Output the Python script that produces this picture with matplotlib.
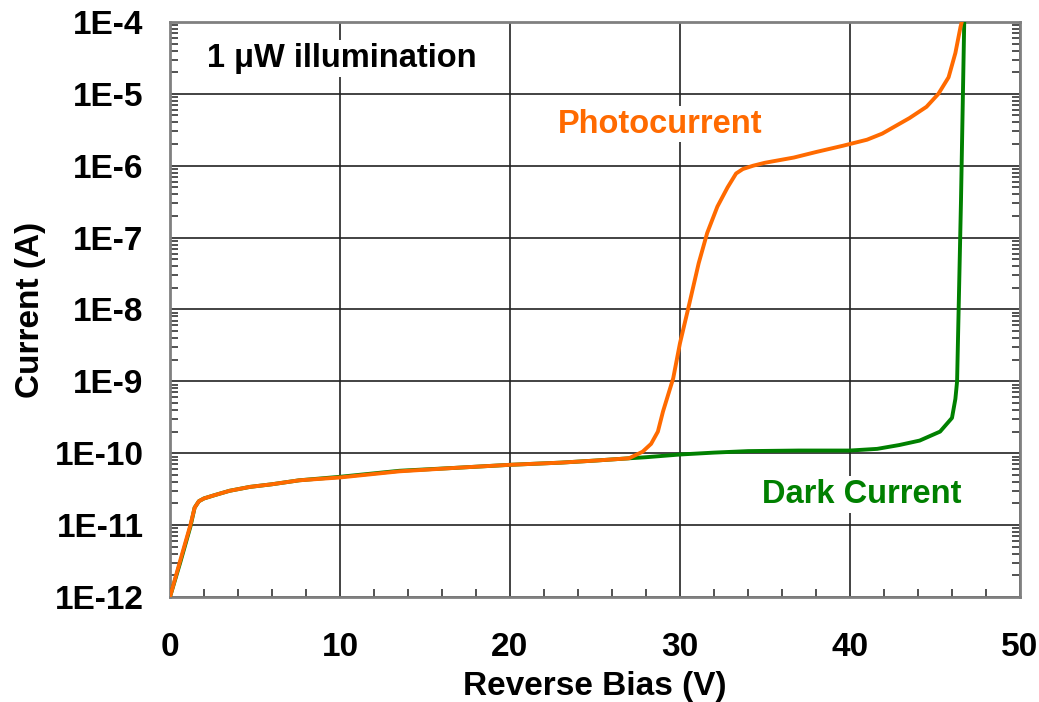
import matplotlib
matplotlib.use('Agg')
import matplotlib.pyplot as plt
from matplotlib.ticker import LogLocator, MultipleLocator, FixedLocator, NullFormatter

plt.rcParams['font.family'] = ['Liberation Sans', 'DejaVu Sans']
plt.rcParams['font.weight'] = 'bold'

# Photocurrent (1 uW illumination)
photo_v = [0, 0.6, 1.2, 1.45, 1.7, 2.0, 2.6, 3.5, 4.7, 6.0, 7.6, 10, 13.5, 17, 20, 23,
           25, 27, 27.8, 28.3, 28.7, 29.0, 29.6, 30.0, 30.5, 31.1, 31.6, 32.2, 32.8, 33.3,
           33.7, 34.3, 35, 36.7, 38, 39.6, 41.0, 41.9, 43.5, 44.5, 45.2, 45.8, 46.2, 46.5, 46.7]
photo_i = [1e-12, 3.2e-12, 1.0e-11, 1.75e-11, 2.15e-11, 2.35e-11, 2.6e-11, 3.0e-11, 3.4e-11,
           3.7e-11, 4.2e-11, 4.6e-11, 5.6e-11, 6.3e-11, 6.9e-11, 7.4e-11, 7.9e-11, 8.5e-11,
           1.05e-10, 1.35e-10, 2.0e-10, 3.8e-10, 1.1e-9, 3.4e-9, 1.07e-8, 4.4e-8, 1.16e-7,
           2.7e-7, 5e-7, 7.8e-7, 9.0e-7, 1.0e-6, 1.1e-6, 1.3e-6, 1.55e-6, 1.9e-6, 2.3e-6,
           2.8e-6, 4.6e-6, 6.6e-6, 1e-5, 1.7e-5, 3.7e-5, 8.5e-5, 1.3e-4]

# Dark current
dark_v = [0, 0.6, 1.2, 1.45, 1.7, 2.0, 2.6, 3.5, 4.7, 6.0, 7.6, 10, 13.5, 17, 20, 23,
          25, 27, 28, 30, 32, 34, 37, 40, 41.6, 42.9, 44.1, 45.3, 46.0, 46.2, 46.3,
          46.53, 46.72, 46.76]
dark_i = [1e-12, 3.0e-12, 0.95e-11, 1.75e-11, 2.15e-11, 2.35e-11, 2.6e-11, 3.0e-11, 3.4e-11,
          3.7e-11, 4.2e-11, 4.7e-11, 5.7e-11, 6.3e-11, 6.9e-11, 7.4e-11, 7.9e-11, 8.5e-11,
          8.8e-11, 9.6e-11, 1.02e-10, 1.07e-10, 1.09e-10, 1.09e-10, 1.15e-10, 1.3e-10,
          1.5e-10, 2.0e-10, 3.1e-10, 5.7e-10, 1.0e-9, 3.3e-7, 1.0e-4, 1.5e-4]

y_ticks = [1e-12, 1e-11, 1e-10, 1e-9, 1e-8, 1e-7, 1e-6, 1e-5, 1e-4]
y_labels = ['1E-12', '1E-11', '1E-10', '1E-9', '1E-8', '1E-7', '1E-6', '1E-5', '1E-4']

orange = '#ff6a00'
green = '#008000'
fs = 24

fig = plt.figure(figsize=(10.39, 7.02), dpi=100)
ax = fig.add_axes([0.1636, 0.1496, 0.8181, 0.8191])

ax.plot(dark_v, dark_i, color=green, linewidth=2.8, zorder=3)
ax.plot(photo_v, photo_i, color=orange, linewidth=2.8, zorder=4)

ax.set_yscale('log')
ax.set_xlim(0, 50)
ax.set_ylim(1e-12, 1e-4)

ax.xaxis.set_major_locator(MultipleLocator(10))
ax.xaxis.set_minor_locator(MultipleLocator(2))
ax.yaxis.set_major_locator(FixedLocator(y_ticks))
ax.set_yticklabels(y_labels)
ax.yaxis.set_minor_locator(LogLocator(base=10, subs=range(2, 10), numticks=20))
ax.yaxis.set_minor_formatter(NullFormatter())

ax.grid(True, which='major', color='#222222', linewidth=1.2, zorder=1)
ax.tick_params(which='major', length=0, labelsize=fs, colors='black')
ax.tick_params(axis='y', which='major', pad=19)
ax.tick_params(axis='x', which='major', pad=25)
ax.tick_params(which='minor', direction='in', length=6, width=1.2, color='#333333',
               left=True, right=True, bottom=True)
for s in ax.spines.values():
    s.set_color('#808080')
    s.set_linewidth(2)

ax.set_xlabel('Reverse Bias (V)', fontsize=fs, fontweight='bold', labelpad=6)
ax.set_ylabel('Current (A)', fontsize=fs, fontweight='bold', labelpad=6)

box = dict(facecolor='white', edgecolor='none', pad=2)
ax.text(2.2, 3.1e-5, '1 \u03bcW illumination', fontsize=23.5, fontweight='bold',
        color='black', va='center', ha='left', bbox=box, zorder=5)
ax.text(22.8, 3.8e-6, 'Photocurrent', fontsize=23.5, fontweight='bold',
        color=orange, va='center', ha='left', bbox=box, zorder=5)
ax.text(34.8, 2.7e-11, 'Dark Current', fontsize=23.5, fontweight='bold',
        color=green, va='center', ha='left', bbox=box, zorder=5)

fig.savefig('out.png', dpi=100)
